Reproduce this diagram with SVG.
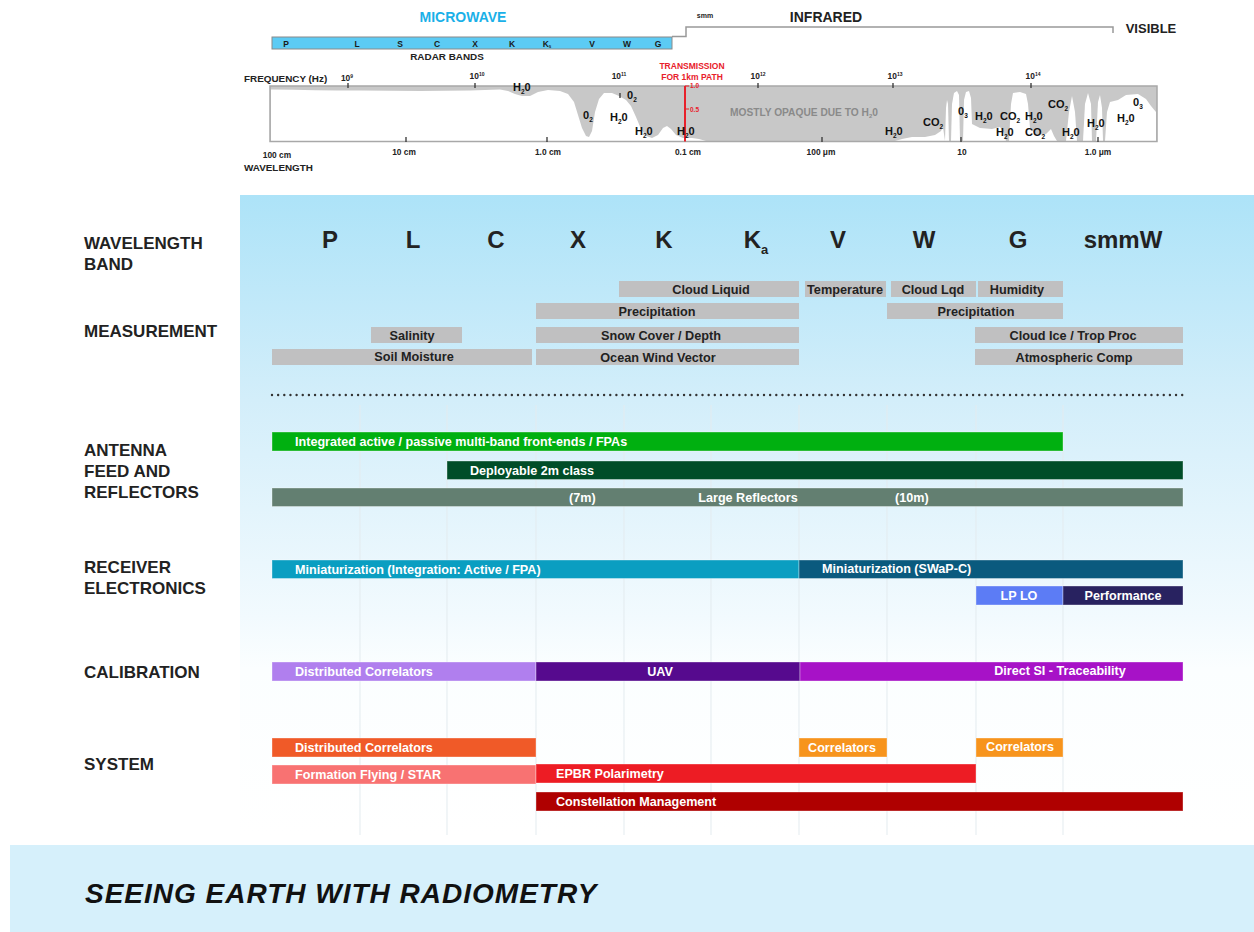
<svg xmlns="http://www.w3.org/2000/svg" width="1254" height="932" viewBox="0 0 1254 932">
<defs>
<linearGradient id="panelGrad" x1="0" y1="0" x2="0" y2="1">
<stop offset="0" stop-color="#ade3f8"/>
<stop offset="0.32" stop-color="#d3eefa"/>
<stop offset="0.66" stop-color="#f2fafe"/>
<stop offset="0.74" stop-color="#fbfeff"/>
<stop offset="1" stop-color="#ffffff"/>
</linearGradient>
<style>
text{font-family:"Liberation Sans",Arial,sans-serif;font-weight:bold}
.hdr{font-size:17px;fill:#222}
.band{font-size:24px;fill:#222;text-anchor:middle}
.meas{fill:#c0c0c1}
.mt{font-size:12.7px;fill:#222;text-anchor:middle}
.bt{font-size:12.6px;fill:#fff}
.btc{font-size:12.6px;fill:#fff;text-anchor:middle}
.bar{stroke:#ffffff;stroke-opacity:0.35;stroke-width:1}
.mol{font-size:11px;fill:#111}
.sub{font-size:6.5px}
.tick{stroke:#333;stroke-width:1.3}
.fl{font-size:8.4px;fill:#222;text-anchor:middle}
.grid{stroke:#e3ebef;stroke-width:1}
</style>
</defs>
<rect width="1254" height="932" fill="#ffffff"/>

<!-- ===== Top spectrum chart ===== -->
<g id="spectrum-header">
<text x="463" y="22" font-size="14" fill="#1ab0e8" text-anchor="middle">MICROWAVE</text>
<text x="705" y="18" font-size="7" fill="#222" text-anchor="middle">smm</text>
<text x="826" y="22" font-size="14" fill="#222" text-anchor="middle">INFRARED</text>
<text x="1151" y="33" font-size="13" fill="#222" text-anchor="middle">VISIBLE</text>
<path d="M672,36.5 H686 V27 H1113 V33" fill="none" stroke="#999" stroke-width="1.5"/>
</g>

<g id="radar-bands">
<rect x="272" y="37" width="400" height="12" fill="#5ccbf4" stroke="#8a8a8a" stroke-width="1"/>
<g font-size="8.5" fill="#1a1a1a" text-anchor="middle">
<text x="286" y="46.5">P</text>
<text x="357" y="46.5">L</text>
<text x="400" y="46.5">S</text>
<text x="437" y="46.5">C</text>
<text x="475" y="46.5">X</text>
<text x="512" y="46.5">K</text>
<text x="547" y="46.5">K<tspan font-size="4.5" dy="1.5">s</tspan></text>
<text x="592" y="46.5">V</text>
<text x="627" y="46.5">W</text>
<text x="658" y="46.5">G</text>
</g>
<text x="447" y="60" font-size="9.9" fill="#222" text-anchor="middle">RADAR BANDS</text>
</g>

<g id="transmission-chart">
<text x="244" y="82" font-size="9.9" fill="#222">FREQUENCY (Hz)</text>
<rect x="270" y="86" width="887" height="55.5" fill="#c8c8c8"/>
<g fill="#ffffff">
<path d="M271,141 L271,89.5 C300,90 330,90.5 360,90.5 L420,91 L470,90.5 L500,89.5 L508,91 L515,94 L522,96 L530,96 L538,92 L548,90 L560,91 L568,94 L574,102 L578,115 L582,128 L586,136 L589,137 L592,131 L595,112 L599,99 L604,93 L612,93 L619,96 L626,100 L631,106 L636,117 L641,129 L646,136 L652,138 L658,135 L663,128 L667,126 L671,129 L676,135 L683,138 L692,138 L699,139 L706,141 Z"/>
<path d="M895,141 L902,139 L912,137 L925,137 L935,135 L941,131 L943,127 L945,141 Z"/>
<path d="M945,141 L946,108 L947,100 L948,104 L949,141 Z"/>
<path d="M951,141 L952,104 L954,93 L957,91 L959,95 L960,141 Z"/>
<path d="M963,141 L964,100 L966,92 L969,91 L971,98 L972,124 L980,128 L992,129 L1000,127 L1004,133 L1006,141 Z"/>
<path d="M1009,141 L1011,104 L1013,93 L1020,92 L1026,94 L1028,104 L1030,128 L1036,135 L1046,134 L1051,129 L1054,136 L1057,141 Z"/>
<path d="M1066,141 L1069,112 L1072,96 L1075,112 L1077,141 Z"/>
<path d="M1083,141 L1085,104 L1088,93 L1091,104 L1092,141 Z"/>
<path d="M1096,141 L1098,102 L1100,95 L1102,108 L1103,141 Z"/>
<path d="M1105,141 L1107,112 L1110,102 L1118,100 L1126,95 L1138,94 L1146,99 L1151,106 L1156,112 L1156,141 Z"/>
</g>
<rect x="270" y="86" width="887" height="55.5" fill="none" stroke="#a8a8a8" stroke-width="1.5"/>
<g class="tick">
<line x1="348" y1="83" x2="348" y2="88"/>
<line x1="475" y1="83" x2="475" y2="88"/>
<line x1="620" y1="93" x2="620" y2="98"/>
<line x1="758" y1="83" x2="758" y2="88"/>
<line x1="893" y1="83" x2="893" y2="88"/>
<line x1="1031" y1="83" x2="1031" y2="88"/>
<line x1="406" y1="137" x2="406" y2="142"/>
<line x1="547" y1="137" x2="547" y2="142"/>
<line x1="822" y1="137" x2="822" y2="142"/>
<line x1="961" y1="137" x2="961" y2="142"/>
<line x1="1098" y1="137" x2="1098" y2="142"/>
</g>
<g class="fl">
<text x="347" y="81">10<tspan font-size="5" dy="-3">9</tspan></text>
<text x="477" y="79">10<tspan font-size="5" dy="-3">10</tspan></text>
<text x="619" y="79">10<tspan font-size="5" dy="-3">11</tspan></text>
<text x="758" y="79">10<tspan font-size="5" dy="-3">12</tspan></text>
<text x="895" y="79">10<tspan font-size="5" dy="-3">13</tspan></text>
<text x="1033" y="79">10<tspan font-size="5" dy="-3">14</tspan></text>
<text x="277" y="158">100 cm</text>
<text x="404" y="155">10 cm</text>
<text x="548" y="155">1.0 cm</text>
<text x="688" y="155">0.1 cm</text>
<text x="821" y="155">100 μm</text>
<text x="962" y="155">10</text>
<text x="1098" y="155">1.0 μm</text>
</g>
<text x="244" y="171" font-size="9.9" fill="#222">WAVELENGTH</text>
<line x1="685" y1="86" x2="685" y2="141.5" stroke="#e8212b" stroke-width="2"/>
<line x1="685" y1="86" x2="689" y2="86" stroke="#e8212b" stroke-width="1"/>
<line x1="685" y1="109" x2="689" y2="109" stroke="#e8212b" stroke-width="1"/>
<text x="690" y="88" font-size="6.5" fill="#e8212b">1.0</text>
<text x="690" y="111.5" font-size="6.5" fill="#e8212b">0.5</text>
<text x="692" y="69" font-size="8.5" fill="#e8212b" text-anchor="middle">TRANSMISSION</text>
<text x="692" y="80" font-size="8.5" fill="#e8212b" text-anchor="middle">FOR 1km PATH</text>
<text x="730" y="116" font-size="10.2" fill="#8a8a8a">MOSTLY OPAQUE DUE TO H<tspan font-size="6" dy="2">2</tspan><tspan dy="-2">0</tspan></text>
<g class="mol">
<text x="513" y="91">H<tspan class="sub" dy="3">2</tspan><tspan dy="-3">0</tspan></text>
<text x="627" y="99">0<tspan class="sub" dy="3">2</tspan></text>
<text x="583" y="119">0<tspan class="sub" dy="3">2</tspan></text>
<text x="610" y="121">H<tspan class="sub" dy="3">2</tspan><tspan dy="-3">0</tspan></text>
<text x="635" y="135">H<tspan class="sub" dy="3">2</tspan><tspan dy="-3">0</tspan></text>
<text x="677" y="135">H<tspan class="sub" dy="3">2</tspan><tspan dy="-3">0</tspan></text>
<text x="885" y="135">H<tspan class="sub" dy="3">2</tspan><tspan dy="-3">0</tspan></text>
<text x="923" y="126">CO<tspan class="sub" dy="3">2</tspan></text>
<text x="958" y="115">0<tspan class="sub" dy="3">3</tspan></text>
<text x="975" y="120">H<tspan class="sub" dy="3">2</tspan><tspan dy="-3">0</tspan></text>
<text x="1000" y="120">CO<tspan class="sub" dy="3">2</tspan></text>
<text x="1025" y="120">H<tspan class="sub" dy="3">2</tspan><tspan dy="-3">0</tspan></text>
<text x="996" y="136">H<tspan class="sub" dy="3">2</tspan><tspan dy="-3">0</tspan></text>
<text x="1025" y="136">CO<tspan class="sub" dy="3">2</tspan></text>
<text x="1048" y="108">CO<tspan class="sub" dy="3">2</tspan></text>
<text x="1062" y="136">H<tspan class="sub" dy="3">2</tspan><tspan dy="-3">0</tspan></text>
<text x="1087" y="127">H<tspan class="sub" dy="3">2</tspan><tspan dy="-3">0</tspan></text>
<text x="1117" y="122">H<tspan class="sub" dy="3">2</tspan><tspan dy="-3">0</tspan></text>
<text x="1133" y="106">0<tspan class="sub" dy="3">3</tspan></text>
</g>
</g>

<!-- ===== Main panel ===== -->
<rect x="240" y="195" width="1014" height="640" fill="url(#panelGrad)"/>
<g id="grid">
<line class="grid" x1="360" y1="405" x2="360" y2="835"/>
<line class="grid" x1="447" y1="405" x2="447" y2="835"/>
<line class="grid" x1="536" y1="405" x2="536" y2="835"/>
<line class="grid" x1="624" y1="405" x2="624" y2="835"/>
<line class="grid" x1="711" y1="405" x2="711" y2="835"/>
<line class="grid" x1="799" y1="405" x2="799" y2="835"/>
<line class="grid" x1="887" y1="405" x2="887" y2="835"/>
<line class="grid" x1="976" y1="405" x2="976" y2="835"/>
<line class="grid" x1="1063" y1="405" x2="1063" y2="835"/>
</g>

<g id="row-labels">
<text class="hdr" x="84" y="249">WAVELENGTH</text>
<text class="hdr" x="84" y="270">BAND</text>
<text class="hdr" x="84" y="337">MEASUREMENT</text>
<text class="hdr" x="84" y="456">ANTENNA</text>
<text class="hdr" x="84" y="477">FEED AND</text>
<text class="hdr" x="84" y="498">REFLECTORS</text>
<text class="hdr" x="84" y="573">RECEIVER</text>
<text class="hdr" x="84" y="594">ELECTRONICS</text>
<text class="hdr" x="84" y="678">CALIBRATION</text>
<text class="hdr" x="84" y="770">SYSTEM</text>
</g>

<g id="bands">
<text class="band" x="330" y="248">P</text>
<text class="band" x="413" y="248">L</text>
<text class="band" x="496" y="248">C</text>
<text class="band" x="578" y="248">X</text>
<text class="band" x="664" y="248">K</text>
<text class="band" x="756" y="248">K<tspan font-size="13" dy="6">a</tspan></text>
<text class="band" x="838" y="248">V</text>
<text class="band" x="924" y="248">W</text>
<text class="band" x="1018" y="248">G</text>
<text class="band" x="1123" y="248">smmW</text>
</g>

<g id="measurements">
<g id="m-cloud-liquid"><rect class="meas" x="619" y="281" width="180" height="16"/><text class="mt" x="711" y="293.5">Cloud Liquid</text></g>
<g id="m-temperature"><rect class="meas" x="805" y="281" width="81" height="16"/><text class="mt" x="845" y="293.5" font-size="12">Temperature</text></g>
<g id="m-cloud-lqd"><rect class="meas" x="891" y="281" width="85" height="16"/><text class="mt" x="933" y="293.5">Cloud Lqd</text></g>
<g id="m-humidity"><rect class="meas" x="978" y="281" width="85" height="16"/><text class="mt" x="1017" y="293.5">Humidity</text></g>
<g id="m-precip-1"><rect class="meas" x="536" y="303" width="263" height="16"/><text class="mt" x="657" y="315.5">Precipitation</text></g>
<g id="m-precip-2"><rect class="meas" x="887" y="303" width="176" height="16"/><text class="mt" x="976" y="315.5">Precipitation</text></g>
<g id="m-salinity"><rect class="meas" x="371" y="327" width="91" height="16"/><text class="mt" x="412" y="339.5">Salinity</text></g>
<g id="m-snow"><rect class="meas" x="536" y="327" width="263" height="16"/><text class="mt" x="661" y="339.5">Snow Cover / Depth</text></g>
<g id="m-cloud-ice"><rect class="meas" x="975" y="327" width="208" height="16"/><text class="mt" x="1073" y="339.5">Cloud Ice / Trop Proc</text></g>
<g id="m-soil"><rect class="meas" x="272" y="349" width="260" height="16"/><text class="mt" x="414" y="361">Soil Moisture</text></g>
<g id="m-ocean"><rect class="meas" x="536" y="349" width="263" height="16"/><text class="mt" x="658" y="361.5">Ocean Wind Vector</text></g>
<g id="m-atmos"><rect class="meas" x="975" y="349" width="208" height="16"/><text class="mt" x="1074" y="361.5">Atmospheric Comp</text></g>
</g>

<g id="separator">
<line x1="272" y1="395" x2="1183" y2="395" stroke="#333" stroke-width="2.4" stroke-linecap="round" stroke-dasharray="0 6.15"/>
</g>

<g id="antenna">
<g id="a-integrated"><rect class="bar" x="272" y="432" width="791" height="19" fill="#00b010"/><text class="bt" x="295" y="446">Integrated active / passive multi-band front-ends / FPAs</text></g>
<g id="a-deployable"><rect class="bar" x="447" y="461" width="736" height="18.5" fill="#004d28"/><text class="bt" x="470" y="474.5">Deployable 2m class</text></g>
<g id="a-large"><rect class="bar" x="272" y="488" width="911" height="18.5" fill="#637f71"/>
<text class="bt" x="569" y="501.5">(7m)</text><text class="btc" x="748" y="501.5">Large Reflectors</text><text class="bt" x="895" y="501.5">(10m)</text></g>
</g>

<g id="receiver">
<g id="r-mini-1"><rect class="bar" x="272" y="560" width="527" height="18.5" fill="#0a9ec1"/><text class="bt" x="295" y="574">Miniaturization (Integration: Active / FPA)</text></g>
<g id="r-mini-2"><rect class="bar" x="799" y="560" width="384" height="18.5" fill="#0a5a7e"/><text class="bt" x="822" y="572.5">Miniaturization (SWaP-C)</text></g>
<g id="r-lplo"><rect class="bar" x="976" y="586" width="87" height="19" fill="#5c7cf5"/><text class="btc" x="1019" y="600">LP LO</text></g>
<g id="r-perf"><rect class="bar" x="1063" y="586" width="120" height="19" fill="#282260"/><text class="btc" x="1123" y="599.5">Performance</text></g>
</g>

<g id="calibration">
<g id="c-dist"><rect class="bar" x="272" y="662" width="264" height="19" fill="#b07fee"/><text class="bt" x="295" y="676">Distributed Correlators</text></g>
<g id="c-uav"><rect class="bar" x="536" y="662" width="264" height="19" fill="#560a8e"/><text class="btc" x="660" y="676">UAV</text></g>
<g id="c-direct"><rect class="bar" x="800" y="662" width="383" height="19" fill="#a712c7"/><text class="btc" x="1060" y="675">Direct SI - Traceability</text></g>
</g>

<g id="system">
<g id="s-dist"><rect class="bar" x="272" y="738" width="264" height="19" fill="#f05a28"/><text class="bt" x="295" y="752">Distributed Correlators</text></g>
<g id="s-corr-1"><rect class="bar" x="799" y="738" width="88" height="19" fill="#f7941d"/><text class="btc" x="842" y="752">Correlators</text></g>
<g id="s-corr-2"><rect class="bar" x="976" y="738" width="87" height="19" fill="#f7941d"/><text class="btc" x="1020" y="751">Correlators</text></g>
<g id="s-formation"><rect class="bar" x="272" y="765" width="264" height="19" fill="#f87272"/><text class="bt" x="295" y="779">Formation Flying / STAR</text></g>
<g id="s-epbr"><rect class="bar" x="536" y="764" width="440" height="19" fill="#ed1c24"/><text class="bt" x="556" y="778">EPBR Polarimetry</text></g>
<g id="s-constellation"><rect class="bar" x="536" y="792" width="647" height="19" fill="#af0000"/><text class="bt" x="556" y="805.5">Constellation Management</text></g>
</g>

<g id="connectors"></g>

<g id="banner">
<rect x="10" y="845" width="1244" height="87" fill="#d6f0fb"/>
<text x="85" y="903" font-size="28" font-style="italic" letter-spacing="1" fill="#111">SEEING EARTH WITH RADIOMETRY</text>
</g>
</svg>
